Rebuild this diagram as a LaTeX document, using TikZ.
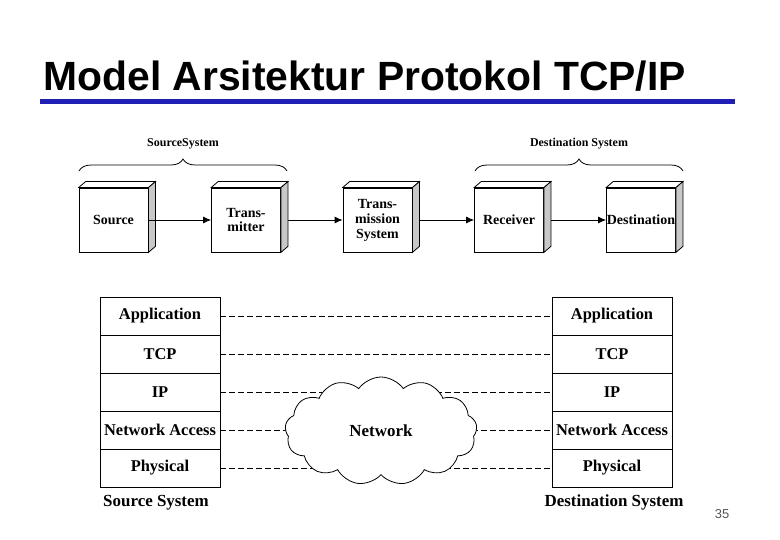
\documentclass[tikz,border=0pt]{standalone}
\usepackage{fontspec}
\setmainfont{Liberation Serif}
\newfontfamily\titlefont{Liberation Sans}
\usetikzlibrary{shapes.symbols}
\usetikzlibrary{decorations.pathreplacing}
\usetikzlibrary{arrows.meta}
\definecolor{ruleColor}{HTML}{1F1FB4}
\definecolor{sideColor}{HTML}{C8C8C8}
\definecolor{pageColor}{HTML}{555555}
\tikzset{
  block/.style={draw, thick, fill=white, minimum width=69bp, minimum height=64bp,
    inner sep=1bp, align=center, font=\bfseries\fontsize{14}{15}\selectfont},
  layer/.style={draw, thick, minimum width=120bp, minimum height=38bp,
    inner sep=0pt, font=\bfseries\fontsize{16.5}{18}\selectfont},
  link/.style={thick, -{Latex[length=8bp,width=7bp]}},
  peer/.style={dashed, thick, dash pattern=on 6bp off 3bp},
}
\begin{document}
\begin{tikzpicture}[x=1bp,y=-1bp]
\useasboundingbox (0,0) rectangle (780,540);

% title
\node[anchor=base west, font=\titlefont\bfseries\fontsize{41}{42}\selectfont] (title)
  at (40,91) {Model Arsitektur Protokol TCP/IP};
\fill[ruleColor] (40,99) rectangle (735,104);

% top chain
\node[block] (src) at (113.5,220) {Source};
\node[block] (tx)  at (246,220) {Trans-\\mitter};
\node[block] (ts)  at (377.5,220) {Trans-\\mission\\System};
\node[block] (rx)  at (509,220) {Receiver};
\node[block, inner sep=0pt] (dst) at (641,220) {Destination};
\foreach \n in {src,tx,ts,rx,dst}{
  \filldraw[fill=white, thick] (\n.north west) -- ++(7,-6)
    -- ([shift={(7,-6)}]\n.north east) -- (\n.north east) -- cycle;
  \filldraw[fill=sideColor, thick] (\n.north east) -- ++(7,-6)
    -- ([shift={(7,-6)}]\n.south east) -- (\n.south east) -- cycle;
}
\draw[link] (src) -- (tx);
\draw[link] ([xshift=7]tx.east) -- (ts);
\draw[link] ([xshift=7]ts.east) -- (rx);
\draw[link] ([xshift=7]rx.east) -- (dst);

% braces
\draw[decorate, decoration={brace, amplitude=12bp}, thick]
  (79,171) -- node[above=18bp, font=\bfseries\fontsize{12}{13}\selectfont] (srclbl) {SourceSystem} (287,171);
\draw[decorate, decoration={brace, amplitude=12bp}, thick]
  (475,171) -- node[above=18bp, font=\bfseries\fontsize{12}{13}\selectfont] (dstlbl) {Destination System} (683,171);

% protocol stacks
\foreach \s/\x in {l/160,r/612}{
  \node[layer] (\s a) at (\x,316) {Application};
  \node[layer] (\s t) at (\x,354) {TCP};
  \node[layer] (\s i) at (\x,392) {IP};
  \node[layer] (\s n) at (\x,430) {Network Access};
  \node[layer] (\s p) at (\x,468) {Physical};
}
\node[font=\bfseries\fontsize{17}{18}\selectfont] (lsys) at (156,503) {Source System};
\node[font=\bfseries\fontsize{17}{18}\selectfont] (rsys) at (614,502) {Destination System};

% peer links
\draw[peer] (la) -- (ra);
\draw[peer] (lt) -- (rt);
\draw[peer] (li) -- (ri);
\draw[peer] (ln) -- (rn);
\draw[dashed, thin, dash pattern=on 6bp off 3bp] (lp) -- (rp);

% network
\node[cloud, cloud puffs=13, cloud puff arc=110, draw, thick, fill=white,
  minimum width=192bp, minimum height=108bp, aspect=1.8,
  font=\bfseries\fontsize{17}{18}\selectfont] (net) at (381,431) {Network};

% page number
\node[font=\titlefont\fontsize{13}{14}\selectfont, text=pageColor] (page) at (722,514) {35};
\end{tikzpicture}
\end{document}
